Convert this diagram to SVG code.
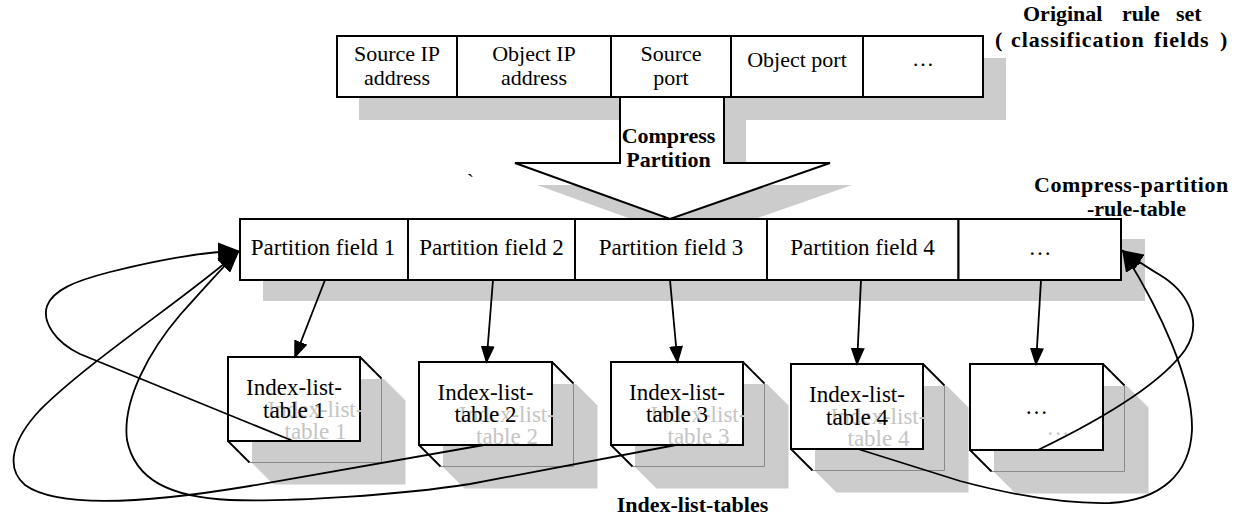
<svg xmlns="http://www.w3.org/2000/svg" width="1243" height="517" viewBox="0 0 1243 517">
<style>
.t{font-family:"Liberation Serif","Times New Roman",serif;font-size:22px;fill:#000;text-anchor:middle}
.m{font-size:23px}
.b{font-weight:bold}
.g{fill:#c4c4c4}
.sh{fill:#cccccc;stroke:none}
.box{fill:#fff;stroke:#000;stroke-width:2}
.dep{stroke:#000;stroke-width:1.8;fill:none}
.back{stroke:#8a8a8a;stroke-width:1;fill:none}
.edge{stroke:#000;stroke-width:1.8;fill:none}
.e1{marker-end:url(#ah)}
.e2{marker-end:url(#ahb)}
</style>
<defs>
<marker id="ah" viewBox="0 0 18 14" refX="16" refY="7" markerWidth="18" markerHeight="14" markerUnits="userSpaceOnUse" orient="auto"><path d="M0,0 L18,7 L0,14 z" fill="#000"/></marker>
<marker id="ahb" viewBox="0 0 22 18" refX="20" refY="9" markerWidth="22" markerHeight="18" markerUnits="userSpaceOnUse" orient="auto"><path d="M0,0 L22,9 L0,18 z" fill="#000"/></marker>
</defs>
<rect width="1243" height="517" fill="#fff"/>

<g id="shadows">
<rect class="sh" x="359" y="58" width="647" height="62"/>
<polygon class="sh" points="642,119 746,119 746,185 852,185 692,241 537,185 642,185"/>
<rect class="sh" x="263" y="239" width="882" height="62"/>
</g>

<g id="original-rule-set">
<rect class="box" x="337" y="36" width="120" height="61"/>
<rect class="box" x="457" y="36" width="154" height="61"/>
<rect class="box" x="611" y="36" width="120" height="61"/>
<rect class="box" x="731" y="36" width="132" height="61"/>
<rect class="box" x="863" y="36" width="120" height="61"/>
<text class="t" x="397" y="61">Source IP</text>
<text class="t" x="397" y="85">address</text>
<text class="t" x="534" y="61">Object IP</text>
<text class="t" x="534" y="85">address</text>
<text class="t" x="671" y="61">Source</text>
<text class="t" x="671" y="85">port</text>
<text class="t" x="797" y="67">Object port</text>
<text class="t" x="923" y="66">…</text>
</g>

<g id="compress-arrow">
<polygon fill="#fff" stroke="#000" stroke-width="2" stroke-linejoin="miter" points="620,97 724,97 724,163 830,163 670,219 515,163 620,163"/>
<text class="t b" x="668.5" y="143">Compress</text>
<text class="t b" x="668.5" y="166.5">Partition</text>
</g>

<g id="tick">
<text class="t" x="470.5" y="189">`</text>
</g>

<g id="compress-partition-rule-table">
<rect class="box" x="240" y="219" width="168" height="61"/>
<rect class="box" x="408" y="219" width="167" height="61"/>
<rect class="box" x="575" y="219" width="192" height="61"/>
<rect class="box" x="767" y="219" width="191.5" height="61"/>
<rect class="box" x="958.5" y="219" width="162.5" height="61"/>
<text class="t m" x="323" y="255">Partition field 1</text>
<text class="t m" x="491.5" y="255">Partition field 2</text>
<text class="t m" x="671" y="255">Partition field 3</text>
<text class="t m" x="862.5" y="255">Partition field 4</text>
<text class="t m" x="1040" y="255">…</text>
</g>

<g id="index-list-table-1">
<polygon class="sh" points="252,379 384,379 405.5,400.5 405.5,484.5 273.5,484.5 252,463"/>
<path class="back" d="M381.5,378.5 V462.5 H249.5"/>
<rect class="box" x="228" y="357" width="132" height="84"/>
<path class="dep" d="M360,357 L381.5,378.5 M228,441 L249.5,462.5"/>
<text class="t m g" x="315.5" y="417">Index-list-</text>
<text class="t m g" x="315.5" y="439">table 1</text>
<text class="t m" x="294" y="395">Index-list-</text>
<text class="t m" x="294" y="417.5">table 1</text>
</g>

<g id="index-list-table-2">
<polygon class="sh" points="443,384 576,384 597.5,405.5 597.5,488.5 464.5,488.5 443,467"/>
<path class="back" d="M573.5,383.5 V466.5 H440.5"/>
<rect class="box" x="419" y="362" width="133" height="83"/>
<path class="dep" d="M552,362 L573.5,383.5 M419,445 L440.5,466.5"/>
<text class="t m g" x="507" y="421.5">Index-list-</text>
<text class="t m g" x="507" y="443.5">table 2</text>
<text class="t m" x="485.5" y="399.5">Index-list-</text>
<text class="t m" x="485.5" y="422">table 2</text>
</g>

<g id="index-list-table-3">
<polygon class="sh" points="635,384 767,384 788.5,405.5 788.5,488.5 656.5,488.5 635,467"/>
<path class="back" d="M764.5,383.5 V466.5 H632.5"/>
<rect class="box" x="611" y="362" width="132" height="83"/>
<path class="dep" d="M743,362 L764.5,383.5 M611,445 L632.5,466.5"/>
<text class="t m g" x="698.5" y="421.5">Index-list-</text>
<text class="t m g" x="698.5" y="443.5">table 3</text>
<text class="t m" x="677" y="399.5">Index-list-</text>
<text class="t m" x="677" y="422">table 3</text>
</g>

<g id="index-list-table-4">
<polygon class="sh" points="815,386 947,386 968.5,407.5 968.5,492.5 836.5,492.5 815,471"/>
<path class="back" d="M944.5,385.5 V470.5 H812.5"/>
<rect class="box" x="791" y="364" width="132" height="85"/>
<path class="dep" d="M923,364 L944.5,385.5 M791,449 L812.5,470.5"/>
<text class="t m g" x="878.5" y="423.5">Index-list-</text>
<text class="t m g" x="878.5" y="446">table 4</text>
<text class="t m" x="857" y="402">Index-list-</text>
<text class="t m" x="857" y="424.5">table 4</text>
</g>

<g id="index-list-table-5">
<polygon class="sh" points="994,386 1127,386 1148.5,407.5 1148.5,493.5 1015.5,493.5 994,472"/>
<path class="back" d="M1124.5,385.5 V471.5 H991.5"/>
<rect class="box" x="970" y="364" width="133" height="86"/>
<path class="dep" d="M1103,364 L1124.5,385.5 M970,450 L991.5,471.5"/>
<text class="t m g" x="1058" y="435">…</text>
<text class="t m" x="1036.5" y="414">…</text>
</g>

<g id="connectors">
<path class="edge e1" d="M325,280 L295,357"/>
<path class="edge e1" d="M493,280 L486.5,362"/>
<path class="edge e1" d="M670,280 L677.5,362"/>
<path class="edge e1" d="M861,280 L857,364"/>
<path class="edge e1" d="M1041,280 L1036,364"/>
<path class="edge e2" d="M293,441 L80,354 C55,342 42,322 47,306 C53,290 75,281 110,272 C150,262 200,252 238,251"/>
<path class="edge e2" d="M484,445 L250,486 C160,501 60,510 25,485 C5,468 12,440 40,410 C90,360 190,295 238,252"/>
<path class="edge e2" d="M676,445 L470,484 C400,495 290,502 230,500 C170,497 135,480 127,440 C122,400 150,350 180,315 C205,287 225,265 238,252"/>
<path class="edge e2" d="M858,449 L960,481 C1020,497 1070,504 1110,503 C1160,500 1190,475 1192,430 C1193,380 1160,310 1123,251"/>
<path class="edge e2" d="M1038,450 C1100,420 1160,385 1185,350 C1205,320 1185,290 1160,275 C1145,266 1132,257 1123,251"/>
</g>

<g id="labels">
<text class="t b" text-anchor="start" style="text-anchor:start" y="21"><tspan x="1023">Original</tspan> <tspan x="1122">rule</tspan> <tspan x="1176">set</tspan></text>
<text class="t b" style="text-anchor:start;letter-spacing:0.9px" y="47"><tspan x="995">(</tspan> <tspan x="1011">classification</tspan> <tspan x="1154">fields</tspan> <tspan x="1220">)</tspan></text>
<text class="t b" style="letter-spacing:0.6px" x="1131.5" y="192">Compress-partition</text>
<text class="t b" x="1136.5" y="216">-rule-table</text>
<text class="t b" x="692.5" y="512">Index-list-tables</text>
</g>
</svg>
